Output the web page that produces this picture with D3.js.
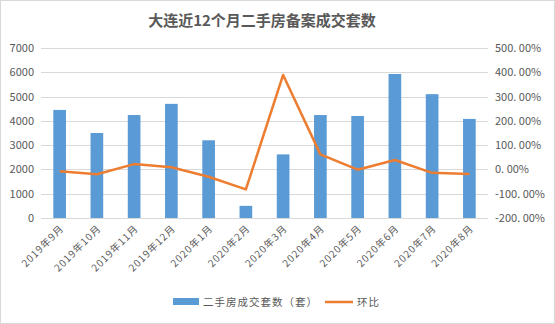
<!DOCTYPE html>
<html>
<head>
<meta charset="utf-8">
<script src="https://cdn.jsdelivr.net/npm/d3@7"></script>
<style>
  body { margin: 0; background: #fff; }
  text { font-family: "Noto Sans CJK SC", "DejaVu Sans", sans-serif; }
</style>
</head>
<body>
<div id="chart"></div>
<script>
// months on the x axis
var months = ["2019年9月","2019年10月","2019年11月","2019年12月","2020年1月","2020年2月",
              "2020年3月","2020年4月","2020年5月","2020年6月","2020年7月","2020年8月"];
// 二手房成交套数 (套)
var deals = [4450, 3500, 4240, 4700, 3200, 500, 2620, 4240, 4200, 5930, 5100, 4080];
// 环比 in %
var mom = [-8, -20, 22, 9, -30, -82, 389, 62, -1, 39, -14, -19];

var leftTicks = [0,1000,2000,3000,4000,5000,6000,7000];
var rightTicks = [-200,-100,0,100,200,300,400,500];

var W = 555, H = 324;
var plotLeft = 41, plotRight = 488, plotTop = 48, plotBottom = 218;

var svg = d3.select("#chart").append("svg")
    .attr("width", W)
    .attr("height", H);

svg.append("rect")
    .attr("x", 0.5).attr("y", 0.5)
    .attr("width", W - 1).attr("height", H - 1)
    .attr("fill", "#fff")
    .attr("stroke", "#d9d9d9");

svg.append("text").text("大连近12个月二手房备案成交套数")
    .attr("x", 262).attr("y", 26)
    .attr("text-anchor", "middle")
    .attr("font-size", "15px")
    .attr("font-weight", "bold")
    .attr("fill", "#595959");

var x = d3.scaleBand().domain(months).range([plotLeft, plotRight]).paddingInner(0.66).paddingOuter(0.33);
var y = d3.scaleLinear().domain([0, 7000]).range([plotBottom, plotTop]);
var y2 = d3.scaleLinear().domain([-200, 500]).range([plotBottom, plotTop]);

// gridlines
svg.append("g").selectAll("line").data(leftTicks).enter().append("line")
    .attr("x1", plotLeft).attr("x2", plotRight)
    .attr("y1", function(d){ return Math.round(y(d)) + 0.5; })
    .attr("y2", function(d){ return Math.round(y(d)) + 0.5; })
    .attr("stroke", "#d9d9d9");

// left axis labels
svg.append("g").selectAll("text").data(leftTicks).enter().append("text")
    .text(function(d){ return d; })
    .attr("x", 34).attr("y", function(d){ return y(d) + 4; })
    .attr("text-anchor", "end")
    .attr("font-size", "11px")
    .attr("fill", "#595959");

// right axis labels
svg.append("g").selectAll("text").data(rightTicks).enter().append("text")
    .text(function(d){ return d.toFixed(2).replace(".", ". ") + "%"; })
    .attr("x", 495).attr("y", function(d){ return y2(d) + 4; })
    .attr("text-anchor", "start")
    .attr("font-size", "11px")
    .attr("fill", "#595959");

// bars
svg.append("g").selectAll("rect").data(deals).enter().append("rect")
    .attr("x", function(d, i){ return x(months[i]); })
    .attr("y", function(d){ return y(d); })
    .attr("width", x.bandwidth())
    .attr("height", function(d){ return y(0) - y(d); })
    .attr("fill", "#5B9BD5");

// line
var line = d3.line()
    .x(function(d, i){ return x(months[i]) + x.bandwidth() / 2; })
    .y(function(d){ return y2(d); });

svg.append("path").datum(mom)
    .attr("d", line)
    .attr("fill", "none")
    .attr("stroke", "#ED7D31")
    .attr("stroke-width", 2.5)
    .attr("stroke-linejoin", "round");

// x labels, rotated
svg.append("g").selectAll("text").data(months).enter().append("text")
    .text(function(d){ return d; })
    .attr("transform", function(d){
        var cx = x(d) + x.bandwidth() / 2 + 5;
        return "translate(" + cx + "," + (plotBottom + 11) + ") rotate(-45)";
    })
    .attr("text-anchor", "end")
    .attr("font-size", "10px")
    .attr("letter-spacing", "1px")
    .attr("fill", "#595959");

// legend
var lg = svg.append("g").attr("transform", "translate(173,302)");
lg.append("rect").attr("x", 0).attr("y", -4).attr("width", 26).attr("height", 7).attr("fill", "#5B9BD5");
lg.append("text").text("二手房成交套数（套）").attr("x", 30).attr("y", 4)
    .attr("font-size", "10.5px").attr("letter-spacing", "1px").attr("fill", "#595959");
lg.append("line").attr("x1", 152).attr("x2", 180).attr("y1", 0).attr("y2", 0)
    .attr("stroke", "#ED7D31").attr("stroke-width", 2.5);
lg.append("text").text("环比").attr("x", 184).attr("y", 4)
    .attr("font-size", "10.5px").attr("letter-spacing", "1px").attr("fill", "#595959");
</script>
</body>
</html>
